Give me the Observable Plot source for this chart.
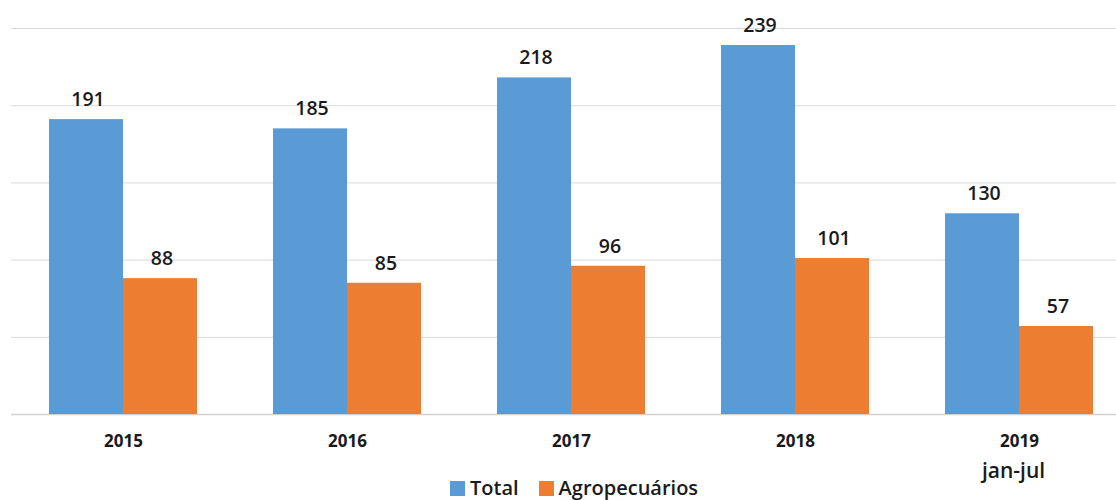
<!DOCTYPE html>
<html>
<head>
<meta charset="utf-8">
<script src="https://cdn.jsdelivr.net/npm/d3@7"></script>
<script src="https://cdn.jsdelivr.net/npm/@observablehq/plot@0.6"></script>
<style>
html,body{margin:0;padding:0;background:#fff;}
#wrap{position:relative;width:1116px;height:500px;overflow:hidden;font-family:"Open Sans",sans-serif;}
#wrap svg{display:block;overflow:visible;}
#legend{position:absolute;left:450px;top:476px;height:24px;display:flex;align-items:center;font-size:20px;font-weight:600;color:#1a1a1a;line-height:24px;}
#legend i{display:inline-block;width:15px;height:15px;margin-right:5px;}
</style>
</head>
<body>
<div id="wrap"></div>
<script>
const years = ["2015","2016","2017","2018","2019"];
const total = [191,185,218,239,130];
const agro = [88,85,96,101,57];
const seriesNames = ["Total","Agropecuários"];
const seriesColors = ["#5B9BD5","#ED7D31"];
const gridValues = [50,100,150,200,250];
const periodNote = "jan-jul";

const rows = years.flatMap((y,i)=>[
  {year:y,series:seriesNames[0],value:total[i]},
  {year:y,series:seriesNames[1],value:agro[i]}
]);

const chart = Plot.plot({
  width:1116,height:475,
  marginLeft:11,marginRight:-15,marginTop:28,marginBottom:61,
  style:{fontFamily:'"Open Sans",sans-serif',background:"transparent"},
  fx:{domain:years,padding:0,label:null},
  x:{domain:seriesNames,paddingInner:0,paddingOuter:0.5135,axis:null,label:null},
  y:{domain:[0,250],axis:null,label:null},
  color:{domain:seriesNames,range:seriesColors},
  marks:[
    Plot.ruleY(gridValues,{stroke:"#d9d9d9",strokeWidth:1}),
    Plot.ruleY([0],{stroke:"#d0d0d0",strokeWidth:1.5}),
    Plot.barY(rows,{fx:"year",x:"series",y:"value",fill:"series"}),
    Plot.text(rows,{fx:"year",x:"series",y:"value",text:d=>String(d.value),dx:1.5,dy:-20,fontSize:19.5,fontWeight:600,fill:"#1a1a1a"}),
    Plot.axisFx({anchor:"bottom",tickSize:0,tickPadding:20,fontSize:17,fontWeight:700,fill:"#1a1a1a",label:null}),
    Plot.text([periodNote],{fx:()=>"2019",frameAnchor:"bottom",dx:-6,dy:63,fontSize:21,fontWeight:600,fill:"#1a1a1a"})
  ]
});
const wrap=document.getElementById("wrap");
wrap.appendChild(chart);
const legend=document.createElement("div");
legend.id="legend";
seriesNames.forEach((n,i)=>{
  const s=document.createElement("span");
  s.style.cssText="display:inline-flex;align-items:center;margin-right:20px;";
  const sw=document.createElement("i");sw.style.background=seriesColors[i];
  s.appendChild(sw);s.appendChild(document.createTextNode(n));
  legend.appendChild(s);
});
wrap.appendChild(legend);
</script>
</body>
</html>
